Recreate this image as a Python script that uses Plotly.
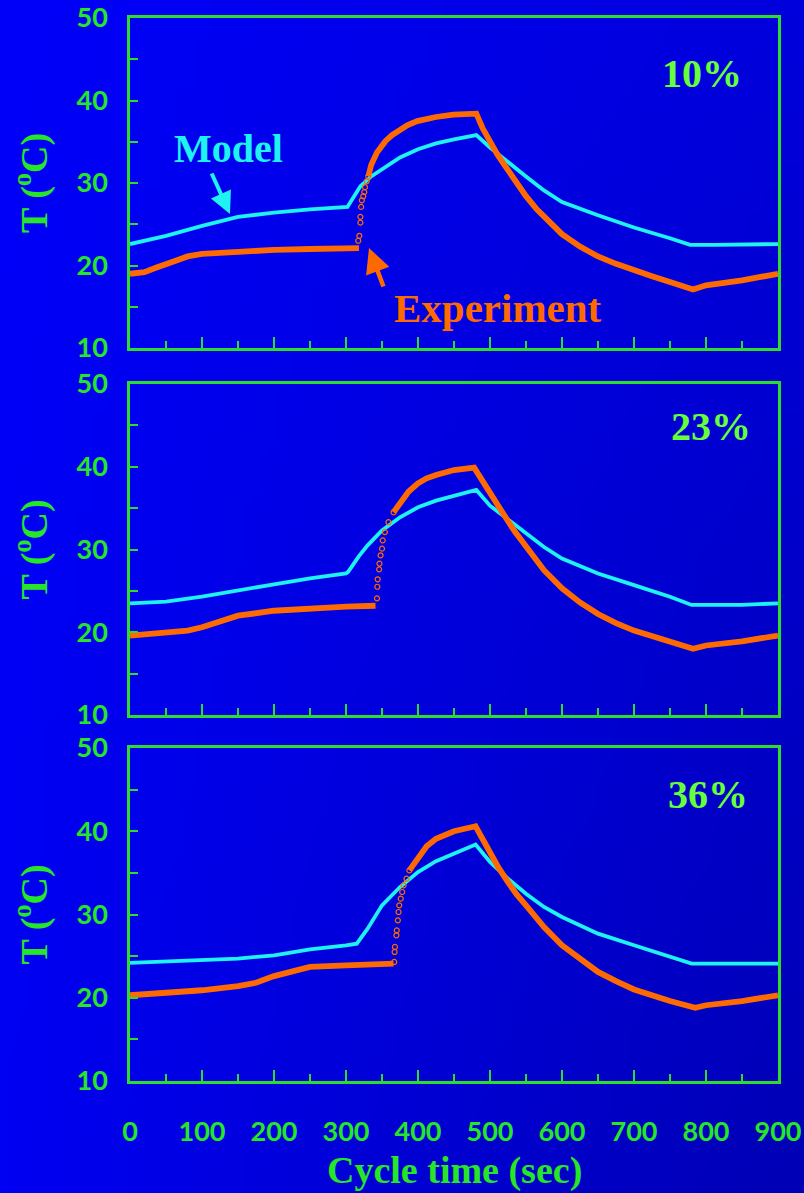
import base64, struct, zlib
import plotly.graph_objects as go

# ---------------- data ----------------
panel_labels = ["10%", "23%", "36%"]

model_t_1 = [0, 50, 100, 150, 200, 250, 302, 320, 335, 350, 375, 400, 425, 450, 481, 500, 525, 550, 575, 600, 650, 700, 750, 778, 812, 900]
model_T_1 = [22.6, 23.6, 24.8, 25.9, 26.4, 26.8, 27.1, 29.6, 30.8, 31.7, 33.1, 34.1, 34.8, 35.3, 35.8, 34.3, 32.5, 30.8, 29.1, 27.7, 26.1, 24.6, 23.3, 22.5, 22.5, 22.6]

exp_t_1 = [0, 20, 35, 50, 65, 80, 100, 150, 200, 250, 300, 318, None, 331, 335, 343, 355, 364, 373, 385, 399, 412, 425, 449, 481, 490, 500, 510, 520, 535, 550, 565, 578, 590, 600, 625, 650, 675, 700, 725, 750, 782, 800, 850, 900]
exp_T_1 = [19.0, 19.2, 19.7, 20.2, 20.7, 21.1, 21.4, 21.7, 21.9, 22.0, 22.0, 22.1, None, 30.8, 32.2, 33.7, 35.1, 35.8, 36.3, 37.0, 37.5, 37.8, 38.0, 38.3, 38.4, 36.6, 34.9, 33.5, 32.2, 30.2, 28.4, 26.8, 25.6, 24.6, 23.8, 22.3, 21.1, 20.2, 19.4, 18.7, 18.0, 17.1, 17.6, 18.2, 19.0]
jump_t_1 = [317, 318.5, 320, 320, 321, 322, 324, 325.4, 326.4, 328.7, 331]
jump_T_1 = [23.0, 23.6, 25.2, 25.9, 27.1, 27.9, 28.4, 28.9, 29.5, 30.2, 30.8]

model_t_2 = [0, 50, 100, 150, 200, 250, 300, 303, 318, 330, 350, 375, 400, 425, 450, 481, 500, 525, 550, 575, 600, 650, 700, 750, 780, 800, 850, 900]
model_T_2 = [23.5, 23.7, 24.3, 25.1, 25.8, 26.5, 27.1, 27.3, 29.2, 30.5, 32.3, 33.9, 35.1, 35.9, 36.5, 37.2, 35.3, 33.6, 31.9, 30.3, 28.9, 27.1, 25.7, 24.3, 23.3, 23.3, 23.3, 23.5]

exp_t_2 = [0, 50, 80, 100, 120, 150, 200, 250, 300, 341, None, 366, 375, 387, 400, 412, 425, 450, 478, 490, 500, 510, 520, 535, 550, 575, 600, 625, 650, 675, 700, 750, 782, 800, 850, 900]
exp_T_2 = [19.6, 19.9, 20.2, 20.6, 21.2, 22.0, 22.6, 22.9, 23.1, 23.2, None, 34.5, 35.5, 37.0, 38.0, 38.6, 39.0, 39.6, 39.9, 38.2, 36.7, 35.4, 34.1, 32.1, 30.3, 27.5, 25.3, 23.6, 22.2, 21.1, 20.2, 18.8, 18.0, 18.4, 18.9, 19.6]
jump_t_2 = [343, 343.5, 344, 346, 346.5, 348, 350, 351, 354, 359, 366]
jump_T_2 = [24.1, 25.5, 26.4, 27.6, 28.3, 29.3, 30.1, 31.1, 32.1, 33.3, 34.5]

model_t_3 = [0, 100, 150, 200, 250, 300, 315, 330, 350, 375, 400, 425, 450, 480, 500, 525, 550, 575, 600, 650, 700, 750, 780, 900]
model_T_3 = [24.2, 24.5, 24.7, 25.1, 25.8, 26.3, 26.5, 28.3, 31.1, 33.3, 35.1, 36.4, 37.3, 38.4, 36.3, 34.3, 32.5, 30.9, 29.7, 27.7, 26.3, 24.9, 24.1, 24.1]

exp_t_3 = [0, 50, 100, 150, 175, 200, 225, 250, 300, 366, None, 388, 400, 412, 425, 437, 450, 480, 490, 500, 512, 525, 537, 550, 575, 600, 625, 650, 675, 700, 750, 785, 800, 850, 900]
exp_T_3 = [20.3, 20.6, 20.9, 21.4, 21.8, 22.6, 23.2, 23.7, 23.9, 24.1, None, 35.3, 36.9, 38.2, 39.1, 39.6, 40.0, 40.6, 39.0, 37.5, 35.6, 33.9, 32.4, 31.1, 28.5, 26.3, 24.6, 23.1, 22.0, 21.0, 19.6, 18.8, 19.1, 19.6, 20.3]
jump_t_3 = [367, 367.5, 368, 370, 370.5, 372, 373, 374, 376, 378, 380, 384, 388]
jump_T_3 = [24.3, 25.5, 26.1, 27.5, 28.1, 29.3, 30.3, 31.1, 31.9, 32.7, 33.5, 34.3, 35.3]

x_ticks = [0, 100, 200, 300, 400, 500, 600, 700, 800, 900]
y_ticks = [10, 20, 30, 40, 50]

panels = [
    (model_t_1, model_T_1, exp_t_1, exp_T_1, jump_t_1, jump_T_1),
    (model_t_2, model_T_2, exp_t_2, exp_T_2, jump_t_2, jump_T_2),
    (model_t_3, model_T_3, exp_t_3, exp_T_3, jump_t_3, jump_T_3),
]

# ---------------- styling ----------------
W, H = 804, 1193
GREEN = "#26E626"
LINE_GREEN = "#2EDC2E"
CYAN = "#1EF2F2"
ORANGE = "#FF6A00"
PCT_GREEN = "#66FF3A"
SERIF = "Liberation Serif, Times New Roman, serif"
SANS = "Lato, Roboto, sans-serif"

x_dom = [130 / W, 778 / W]
y_doms = [
    [1 - 348 / H, 1 - 18 / H],
    [1 - 715 / H, 1 - 384 / H],
    [1 - 1081 / H, 1 - 748 / H],
]


def gradient_png(w, h):
    rows = b""
    for j in range(h):
        row = b"\x00"
        fy = j / (h - 1)
        for i in range(w):
            fx = i / (w - 1)
            b = 250 - 30 * fx - 8 * fy - 30 * fx * fy
            row += bytes([0, 0, max(0, min(255, int(b)))])
        rows += row
    def chunk(t, d):
        c = struct.pack(">I", len(d)) + t + d
        return c + struct.pack(">I", zlib.crc32(t + d) & 0xFFFFFFFF)
    png = b"\x89PNG\r\n\x1a\n"
    png += chunk(b"IHDR", struct.pack(">IIBBBBB", w, h, 8, 2, 0, 0, 0))
    png += chunk(b"IDAT", zlib.compress(rows))
    png += chunk(b"IEND", b"")
    return "data:image/png;base64," + base64.b64encode(png).decode()


fig = go.Figure()
layout = dict(
    width=W, height=H, autosize=False,
    margin=dict(l=0, r=0, t=0, b=0, pad=0),
    paper_bgcolor="#0000E4",
    plot_bgcolor="rgba(0,0,0,0)",
    showlegend=False,
    images=[dict(source=gradient_png(48, 48), xref="paper", yref="paper", x=0, y=1,
                 sizex=1, sizey=1, sizing="stretch", xanchor="left", yanchor="top",
                 layer="below")],
)

annotations = []
for i, (mt, mT, et, eT, jt, jT) in enumerate(panels):
    xa = "x" if i == 0 else f"x{i+1}"
    ya = "y" if i == 0 else f"y{i+1}"
    fig.add_trace(go.Scatter(x=mt, y=mT, mode="lines", xaxis=xa, yaxis=ya,
                             line=dict(color=CYAN, width=3.8)))
    fig.add_trace(go.Scatter(x=et, y=eT, mode="lines", xaxis=xa, yaxis=ya,
                             connectgaps=False,
                             line=dict(color=ORANGE, width=5.8)))
    fig.add_trace(go.Scatter(x=jt, y=jT, mode="markers", xaxis=xa, yaxis=ya,
                             marker=dict(symbol="circle-open", size=5, color=ORANGE,
                                         line=dict(width=1.2, color=ORANGE))))
    xkey = "xaxis" if i == 0 else f"xaxis{i+1}"
    ykey = "yaxis" if i == 0 else f"yaxis{i+1}"
    layout[xkey] = dict(
        domain=x_dom, anchor=ya, range=[0, 900], automargin=False,
        showline=True, mirror=True, linecolor=LINE_GREEN, linewidth=2.5,
        showgrid=False, zeroline=False,
        tickmode="array", tickvals=x_ticks, ticktext=[str(v) for v in x_ticks],
        ticks="inside", ticklen=11, tickwidth=2, tickcolor=LINE_GREEN,
        minor=dict(ticks="inside", dtick=50, tick0=0, ticklen=7, tickwidth=2,
                   tickcolor=LINE_GREEN, showgrid=False),
        showticklabels=(i == 2),
        tickfont=dict(family=SANS, size=27, color=GREEN, weight="bold"),
        ticklabelstandoff=25,
    )
    layout[ykey] = dict(
        domain=y_doms[i], anchor=xa, range=[10, 50], automargin=False,
        showline=True, mirror=True, linecolor=LINE_GREEN, linewidth=2.5,
        showgrid=False, zeroline=False,
        tickmode="array", tickvals=y_ticks, ticktext=[str(v) for v in y_ticks],
        ticks="inside", ticklen=8, tickwidth=2, tickcolor=LINE_GREEN,
        minor=dict(ticks="inside", dtick=5, tick0=10, ticklen=8, tickwidth=2,
                   tickcolor=LINE_GREEN, showgrid=False),
        tickfont=dict(family=SANS, size=27, color=GREEN, weight="bold"),
        ticklabelstandoff=14,
    )
    # y axis title
    annotations.append(dict(
        text="T (<sup>o</sup>C)", xref="paper", yref="paper",
        x=32 / W, y=sum(y_doms[i]) / 2, textangle=-90, showarrow=False,
        font=dict(family=SERIF, size=38, color=GREEN, weight="bold"),
        xanchor="center", yanchor="middle"))

pct_pos = [(702, 73), (711, 426), (708, 794)]
for lab, (px, py) in zip(panel_labels, pct_pos):
    annotations.append(dict(
        text=lab, xref="paper", yref="paper", x=px / W, y=1 - py / H,
        showarrow=False, xanchor="center", yanchor="middle",
        font=dict(family=SERIF, size=40, color=PCT_GREEN, weight="bold")))

# x axis title
annotations.append(dict(
    text="Cycle time (sec)", xref="paper", yref="paper", x=454 / W, y=1 - 1170 / H,
    showarrow=False, xanchor="center", yanchor="middle",
    font=dict(family=SERIF, size=38, color=GREEN, weight="bold")))

# Model label + arrow
annotations.append(dict(
    text="Model", xref="paper", yref="paper", x=228 / W, y=1 - 148 / H,
    showarrow=False, xanchor="center", yanchor="middle",
    font=dict(family=SERIF, size=40, color=CYAN, weight="bold")))
annotations.append(dict(
    text="", xref="paper", yref="paper", x=230 / W, y=1 - 214 / H,
    showarrow=True, ax=-19, ay=-42, arrowhead=2, arrowsize=1.1, arrowwidth=4,
    arrowcolor=CYAN, standoff=0))

# Experiment label + arrow
annotations.append(dict(
    text="Experiment", xref="paper", yref="paper", x=498 / W, y=1 - 308 / H,
    showarrow=False, xanchor="center", yanchor="middle",
    font=dict(family=SERIF, size=41, color=ORANGE, weight="bold")))
annotations.append(dict(
    text="", xref="paper", yref="paper", x=369 / W, y=1 - 248 / H,
    showarrow=True, ax=15, ay=40, arrowhead=2, arrowsize=1.1, arrowwidth=4.5,
    arrowcolor=ORANGE, standoff=0))

layout["annotations"] = annotations
fig.update_layout(**layout)
fig.write_html(
    "out.html",
    config={"displayModeBar": False},
    post_script="document.body.style.margin='0px';document.body.style.overflow='hidden';",
)
